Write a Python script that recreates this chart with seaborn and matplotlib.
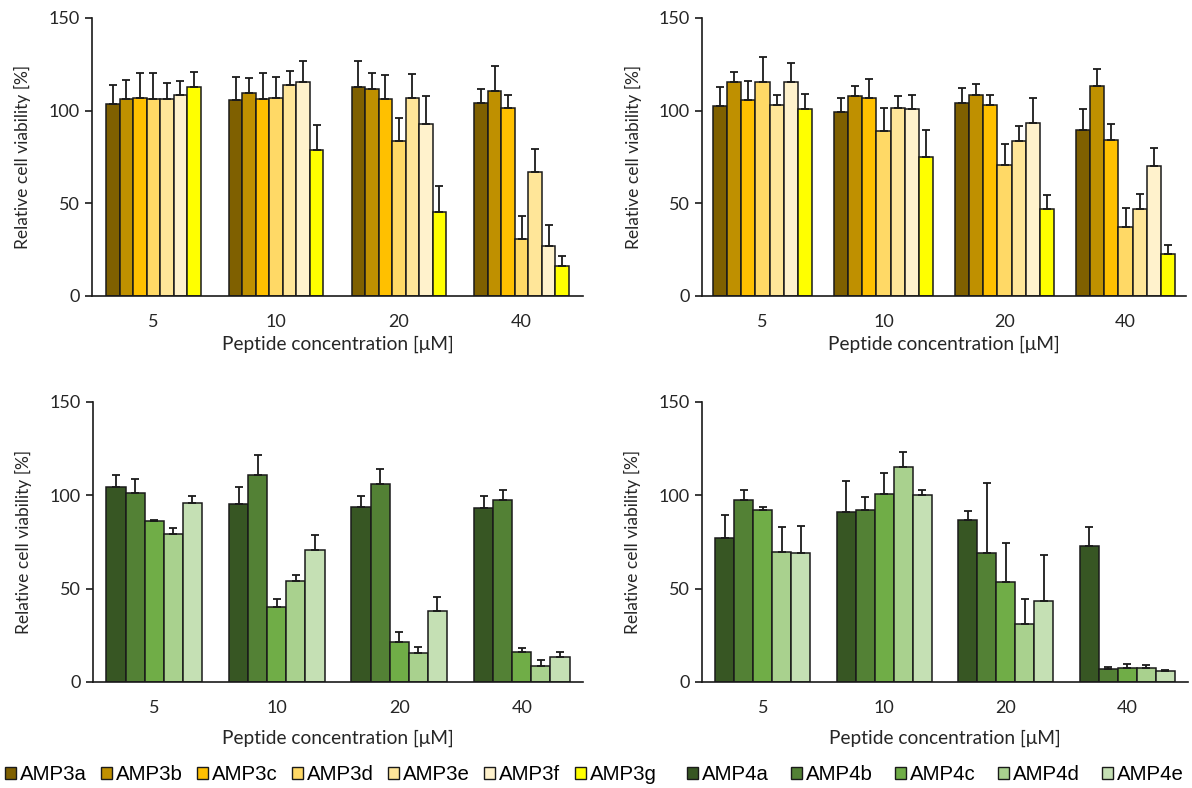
import numpy as np
import pandas as pd
import matplotlib
matplotlib.use("Agg")
import matplotlib.pyplot as plt
import seaborn as sns
from matplotlib.patches import Patch

sns.set_theme(style="white")
plt.rcParams['font.family'] = ['Lato', 'DejaVu Sans']

# ---------------- data ----------------
concentrations = ["5", "10", "20", "40"]

amp3_names = ["AMP3a", "AMP3b", "AMP3c", "AMP3d", "AMP3e", "AMP3f", "AMP3g"]
amp4_names = ["AMP4a", "AMP4b", "AMP4c", "AMP4d", "AMP4e"]

amp3_colors = ["#7F6000", "#BF9000", "#FFC000", "#FFD966", "#FFE699", "#FFF2CC", "#FFFF00"]
amp4_colors = ["#375623", "#538135", "#70AD47", "#A9D18E", "#C5E0B4"]

# top-left panel (rows = concentration, columns = peptide)
tl_values = [
    [103.8, 106.2, 107.1, 106.2, 106.5, 108.2, 112.5],
    [105.6, 109.3, 106.2, 107.1, 113.8, 115.2, 78.8],
    [112.5, 111.6, 106.2, 83.8, 107.1, 93.0, 45.4],
    [104.0, 110.8, 101.3, 30.9, 66.7, 26.8, 16.0],
]
tl_errors = [
    [10.0, 10.6, 13.2, 14.1, 8.3, 7.9, 8.3],
    [12.3, 8.1, 14.1, 10.8, 7.7, 11.7, 13.7],
    [14.4, 8.7, 13.0, 12.5, 12.6, 15.0, 14.1],
    [7.5, 13.1, 7.3, 12.3, 12.8, 11.3, 5.4],
]

# top-right panel
tr_values = [
    [102.5, 115.2, 105.7, 115.6, 102.8, 115.6, 100.7],
    [99.2, 107.9, 107.0, 88.8, 101.2, 100.7, 74.9],
    [104.3, 108.2, 102.8, 70.8, 83.4, 93.3, 47.2],
    [89.7, 113.3, 84.3, 37.3, 47.2, 69.9, 22.7],
]
tr_errors = [
    [10.4, 5.8, 10.4, 13.1, 5.6, 10.1, 8.1],
    [7.8, 5.4, 10.0, 12.8, 6.7, 7.7, 14.4],
    [7.7, 6.1, 5.6, 11.3, 8.3, 13.3, 7.4],
    [11.0, 9.1, 8.4, 10.4, 7.7, 10.1, 5.0],
]

# bottom-left panel
bl_values = [
    [104.3, 101.1, 86.2, 79.1, 95.7],
    [95.4, 110.9, 40.0, 53.9, 70.5],
    [93.9, 106.1, 21.3, 15.4, 37.9],
    [93.2, 97.5, 15.9, 8.6, 13.6],
]
bl_errors = [
    [6.8, 7.6, 0.6, 3.2, 3.8],
    [8.9, 10.9, 4.5, 3.2, 8.1],
    [5.7, 8.0, 5.3, 3.2, 7.5],
    [6.4, 5.5, 2.1, 3.2, 2.7],
]

# bottom-right panel
br_values = [
    [77.2, 97.5, 92.1, 69.5, 69.2],
    [90.9, 92.1, 100.5, 115.4, 100.2],
    [86.6, 69.2, 53.4, 31.2, 43.2],
    [72.8, 7.0, 7.7, 7.7, 6.1],
]
br_errors = [
    [12.2, 5.5, 1.8, 13.6, 14.5],
    [16.6, 7.2, 11.5, 7.9, 2.8],
    [5.1, 37.2, 21.1, 13.1, 25.1],
    [10.3, 0.9, 2.2, 1.6, 0.5],
]

y_ticks = [0, 50, 100, 150]
x_label = "Peptide concentration [\u03bcM]"
y_label = "Relative cell viability [%]"

# ---------------- figure ----------------
W, H = 1192, 788
fig = plt.figure(figsize=(W / 100, H / 100), dpi=100)


def px_axes(left, right, top, bottom):
    return fig.add_axes([left / W, 1 - bottom / H, (right - left) / W, (bottom - top) / H])


panels = [
    dict(box=(92, 583, 18, 296), vals=tl_values, errs=tl_errors, names=amp3_names,
         colors=amp3_colors, width=0.77, labelpad=4),
    dict(box=(702, 1186, 18, 296), vals=tr_values, errs=tr_errors, names=amp3_names,
         colors=amp3_colors, width=0.81, labelpad=4),
    dict(box=(93, 583, 402, 682), vals=bl_values, errs=bl_errors, names=amp4_names,
         colors=amp4_colors, width=0.78, labelpad=10),
    dict(box=(702, 1188, 402, 682), vals=br_values, errs=br_errors, names=amp4_names,
         colors=amp4_colors, width=0.78, labelpad=10),
]

text_color = "#262626"
edge = "#1a1a1a"

for p in panels:
    ax = px_axes(*p["box"])
    rows = []
    for ci, c in enumerate(concentrations):
        for ni, n in enumerate(p["names"]):
            rows.append(dict(conc=c, peptide=n, value=p["vals"][ci][ni], err=p["errs"][ci][ni]))
    df = pd.DataFrame(rows)
    sns.barplot(data=df, x="conc", y="value", hue="peptide", order=concentrations,
                hue_order=p["names"], palette=p["colors"], width=p["width"],
                edgecolor=edge, linewidth=1.1, errorbar=None, legend=False, ax=ax,
                saturation=1)
    # error bars (upper only) on the seaborn-placed bars
    for cont, name in zip(ax.containers, p["names"]):
        sub = df[df.peptide == name].set_index("conc").loc[concentrations]
        xs = [b.get_x() + b.get_width() / 2 for b in cont]
        hs = [b.get_height() for b in cont]
        ax.errorbar(xs, hs, yerr=[np.zeros(len(xs)), sub["err"].values], fmt="none",
                    ecolor=edge, elinewidth=1.3, capsize=2.8, capthick=1.3, zorder=1)
    ax.set_xlim(-0.5, len(concentrations) - 0.5)
    ax.set_ylim(0, 150)
    ax.set_yticks(y_ticks)
    ax.set_xticks(range(len(concentrations)))
    ax.set_xticklabels(concentrations)
    ax.set_xticks(np.arange(-0.5, len(concentrations)), minor=True)
    ax.tick_params(axis="x", which="major", length=0, pad=13, labelsize=13, colors=text_color)
    ax.tick_params(axis="x", which="minor", length=5, width=1.2, color=edge, direction="out")
    ax.tick_params(axis="y", which="major", length=5, width=1.2, color=edge, direction="out",
                   pad=4, labelsize=13, labelcolor=text_color, left=True)
    for s in ["top", "right"]:
        ax.spines[s].set_visible(False)
    for s in ["left", "bottom"]:
        ax.spines[s].set_color(edge)
        ax.spines[s].set_linewidth(1.2)
    ax.set_xlabel(x_label, fontsize=13.8, color=text_color, labelpad=p["labelpad"])
    ax.set_ylabel(y_label, fontsize=12.5, color=text_color)
    ax.yaxis.set_label_coords(-0.125, 0.5)
    ax.set_facecolor("white")

# ---------------- legends ----------------
leg_kw = dict(loc="center left", frameon=False, handlelength=0.54, handleheight=0.54,
              handletextpad=0.2, borderaxespad=0, borderpad=0,
              prop={"family": "Liberation Sans", "size": 14.7})
h3 = [Patch(facecolor=c, edgecolor=edge, linewidth=1.0) for c in amp3_colors]
leg1 = fig.legend(h3, amp3_names, bbox_to_anchor=(5 / W, 13 / H), ncol=7,
                  columnspacing=0.69, **leg_kw)
h4 = [Patch(facecolor=c, edgecolor=edge, linewidth=1.0) for c in amp4_colors]
leg2 = fig.legend(h4, amp4_names, bbox_to_anchor=(687 / W, 13 / H), ncol=5,
                  columnspacing=1.08, **leg_kw)
for leg in (leg1, leg2):
    for t in leg.get_texts():
        t.set_color("black")

fig.savefig("out.png", dpi=100, facecolor="white")
